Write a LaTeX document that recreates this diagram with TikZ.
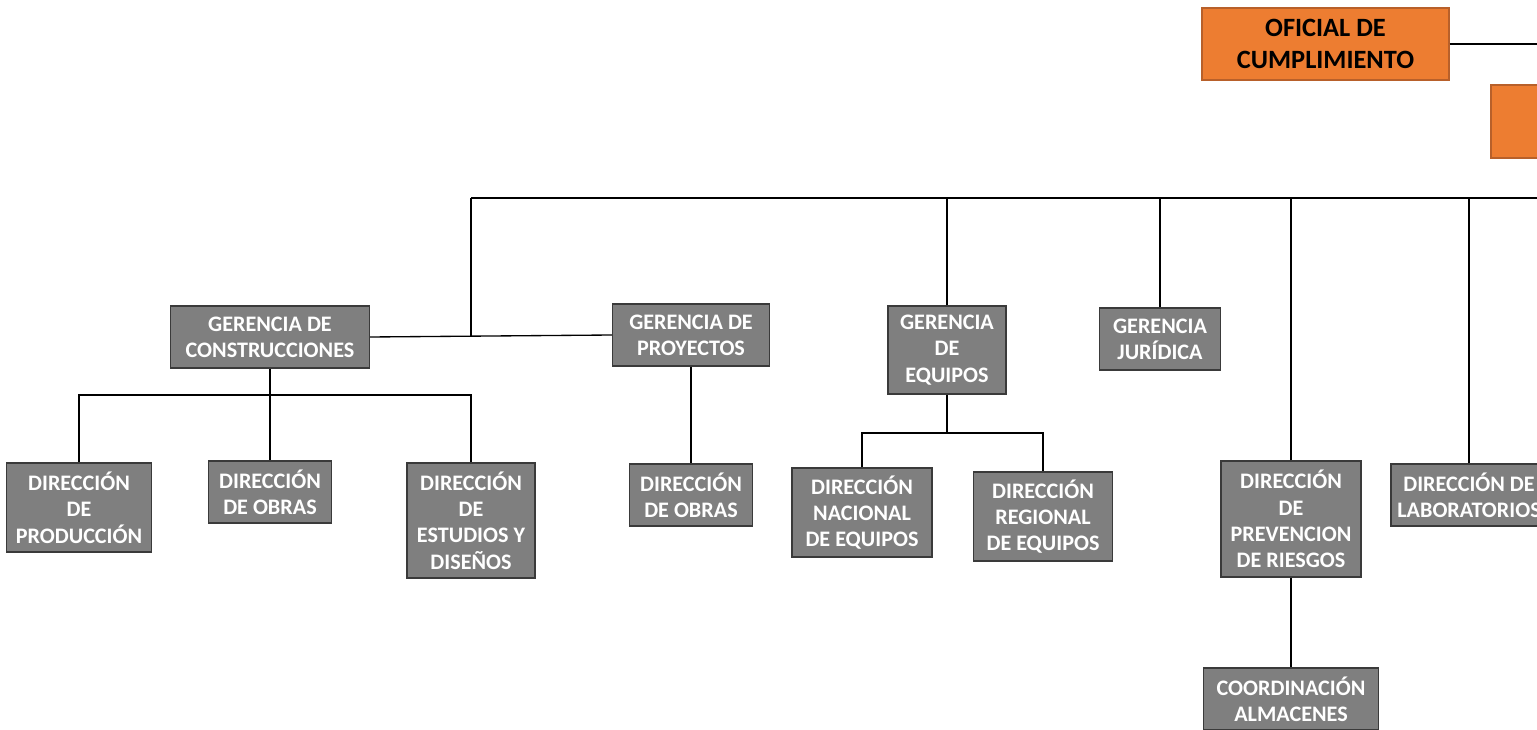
\documentclass[tikz,border=0pt]{standalone}
\usepackage{fontspec}
\setmainfont{Carlito}
\usetikzlibrary{positioning,calc}

\definecolor{boxgray}{HTML}{7F7F7F}
\definecolor{boxline}{HTML}{3A3A3A}
\definecolor{orgfill}{HTML}{ED7D31}
\definecolor{orgline}{HTML}{B8602A}

\tikzset{
  gbox/.style={draw=boxline,fill=boxgray,text=white,line width=0.8pt,
    font=\fontsize{16.6}{19.75}\selectfont\bfseries,align=center,inner sep=0pt},
  obox/.style={draw=orgline,fill=orgfill,text=black,line width=0.8pt,
    font=\fontsize{19.8}{23.5}\selectfont\bfseries,align=center,inner sep=0pt},
  link/.style={draw=black,line width=1pt},
}

\begin{document}
\begin{tikzpicture}[x=0.75pt,y=-0.75pt]
\useasboundingbox (0,0) rectangle (1537,730);
\clip (0,0) rectangle (1537,730);

% top
\node[obox,minimum width=185.25pt,minimum height=54pt] (ofc) at (1325.5,44) {OFICIAL DE\\CUMPLIMIENTO};
\node[obox,minimum width=156.75pt,minimum height=54.75pt] (org) at (1595.5,121.5) {};
\coordinate (ofr) at (1545,44);
\draw[link] (ofc.east) -- (ofr);

% bus
\coordinate (bl) at (471,198);
\coordinate (br) at (1545,198);
\draw[link] (bl) -- (br);

% gerencias
\node[gbox,minimum width=149.25pt,minimum height=46.5pt] (gc) at (270,337) {GERENCIA DE\\CONSTRUCCIONES};
\node[gbox,minimum width=117.75pt,minimum height=46.5pt] (gp) at (691,335) {GERENCIA DE\\PROYECTOS};
\node[gbox,minimum width=88.5pt,minimum height=66pt] (ge) at (947,350) {GERENCIA\\DE\\EQUIPOS};
\node[gbox,minimum width=90.75pt,minimum height=46.5pt] (gj) at (1160,339) {GERENCIA\\JURÍDICA};

\coordinate (j1) at (471,336);
\draw[link] (gc.east) -- (gp.west);
\draw[link] (bl) -- (j1);
\draw[link] (ge.north) -- (ge.north |- bl);
\draw[link] (gj.north) -- (gj.north |- bl);

% direcciones
\node[gbox,minimum width=108.75pt,minimum height=66.75pt] (dp) at (79,507.5) {DIRECCIÓN\\DE\\PRODUCCIÓN};
\node[gbox,minimum width=92.25pt,minimum height=46.5pt] (do1) at (270,492) {DIRECCIÓN\\DE OBRAS};
\node[gbox,minimum width=96pt,minimum height=86.25pt] (ded) at (471,520.5) {DIRECCIÓN\\DE\\ESTUDIOS Y\\DISEÑOS};
\node[gbox,minimum width=92.25pt,minimum height=46.5pt] (do2) at (691,495) {DIRECCIÓN\\DE OBRAS};
\node[gbox,minimum width=105pt,minimum height=66.75pt] (dne) at (862,512.5) {DIRECCIÓN\\NACIONAL\\DE EQUIPOS};
\node[gbox,minimum width=104.25pt,minimum height=66.75pt] (dre) at (1043,516.5) {DIRECCIÓN\\REGIONAL\\DE EQUIPOS};
\node[gbox,minimum width=105pt,minimum height=87pt] (dpr) at (1291,519) {DIRECCIÓN\\DE\\PREVENCION\\DE RIESGOS};
\node[gbox,minimum width=131.25pt,minimum height=46.5pt] (ca) at (1291,699) {COORDINACIÓN\\ALMACENES};
\node[gbox,minimum width=117pt,minimum height=46.5pt] (dl) at (1469,495) {DIRECCIÓN DE\\LABORATORIOS};

\coordinate (gcb) at (270,395);
\coordinate (geb) at (947,433);
\draw[link] (gc.south) -- (do1.north);
\draw[link] (dp.north) |- (gcb) -| (ded.north);
\draw[link] (gp.south) -- (do2.north);
\draw[link] (ge.south) -- (geb);
\draw[link] (dne.north) |- (geb) -| (dre.north);
\draw[link] (dpr.north) -- (dpr.north |- bl);
\draw[link] (dl.north) -- (dl.north |- bl);
\draw[link] (dpr.south) -- (ca.north);
\end{tikzpicture}
\end{document}
